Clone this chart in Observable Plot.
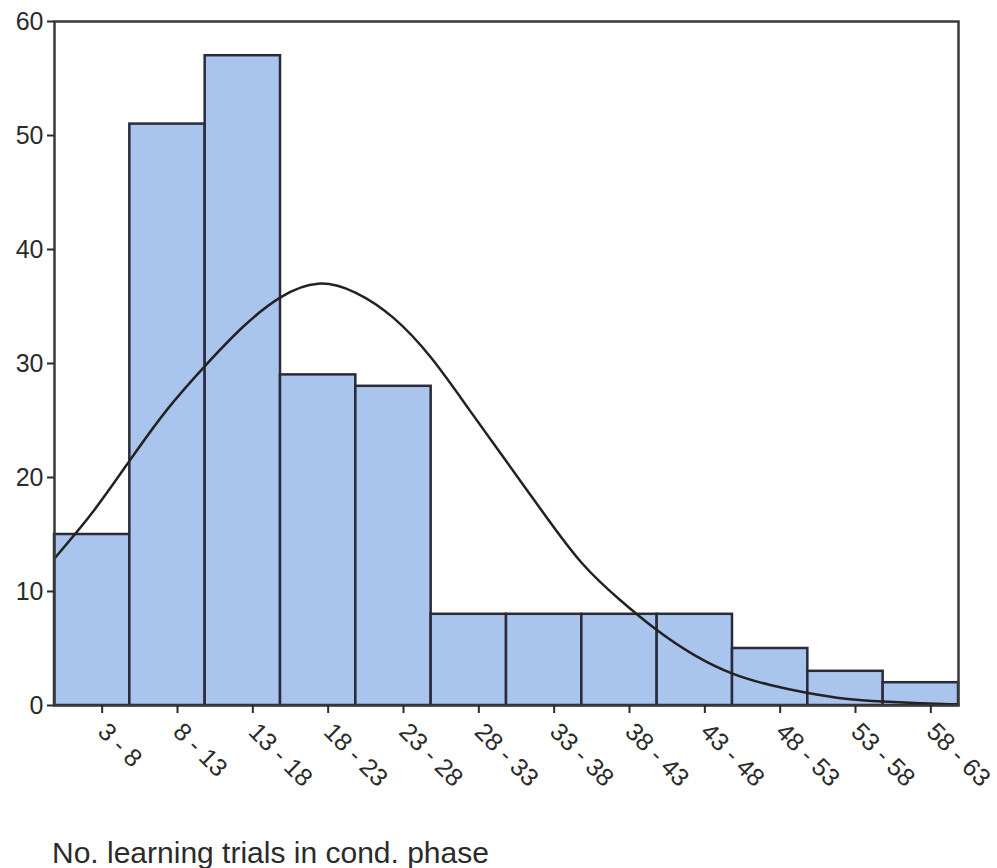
<!DOCTYPE html>
<html><head><meta charset="utf-8">
<script src="https://cdn.jsdelivr.net/npm/d3@7"></script>
<script src="https://cdn.jsdelivr.net/npm/@observablehq/plot@0.6"></script>
<style>
body{margin:0;background:#fff;font-family:"Liberation Sans",Arial,sans-serif;overflow:hidden;}
#wrap{position:relative;width:997px;height:868px;}
#title{position:absolute;left:52px;top:836px;font-size:30px;color:#2b2b2b;white-space:nowrap;}
#chart svg text{font-size:25px;}
</style>
</head><body><div id="wrap"><div id="chart"></div><div id="title">No. learning trials in cond. phase</div></div>
<script>
const binStart=[3,8,13,18,23,28,33,38,43,48,53,58];
const binEnd=[8,13,18,23,28,33,38,43,48,53,58,63];
const binLabels=["3 - 8","8 - 13","13 - 18","18 - 23","23 - 28","28 - 33","33 - 38","38 - 43","43 - 48","48 - 53","53 - 58","58 - 63"];
const counts=[15,51,57,29,28,8,8,8,8,5,3,2];
const curveX=[3,5.5,8,10.5,13,15.5,18,20.5,23,25.5,28,30.5,33,35.5,38,40.5,43,45.5,48,50.5,53,55.5,58,60.5,63];
const curveY=[12.9,16.9,21.5,26.0,29.8,33.2,35.8,37.0,36.2,34.0,30.5,26.0,21.4,16.8,12.5,9.3,6.6,4.4,2.8,1.8,1.1,0.6,0.35,0.2,0.1];
const yTicks=[0,10,20,30,40,50,60];

const bins=binStart.map((s,i)=>({x1:s,x2:binEnd[i],y:counts[i],label:binLabels[i],mid:(s+binEnd[i])/2}));
const curve=curveX.map((x,i)=>({x,y:curveY[i]}));
const labelByMid=new Map(bins.map(b=>[b.mid,b.label]));

const chart=Plot.plot({
  width:997,height:805,
  marginLeft:54,marginRight:39,marginTop:21,marginBottom:100,
  style:{fontFamily:"'Liberation Sans',Arial,sans-serif",fontSize:"25px",color:"#2b2b2b",background:"#fff"},
  x:{domain:[3,63]},
  y:{domain:[0,60]},
  marks:[
    Plot.rectY(bins,{x1:"x1",x2:"x2",y:"y",fill:"#a9c5ee",stroke:"#2a2a38",strokeWidth:2.5}),
    Plot.line(curve,{x:"x",y:"y",curve:"natural",stroke:"#222",strokeWidth:2.5}),
    Plot.frame({stroke:"#3a3a3a",strokeWidth:2.5}),
    Plot.axisY({ticks:yTicks,tickSize:7,tickPadding:4,label:null,strokeWidth:2}),
    Plot.axisX({ticks:bins.map(b=>b.mid),tickFormat:d=>labelByMid.get(d),tickRotate:45,tickSize:8,tickPadding:14,dx:10,label:null,strokeWidth:2})
  ]
});
document.getElementById("chart").appendChild(chart);
</script>
</body></html>
